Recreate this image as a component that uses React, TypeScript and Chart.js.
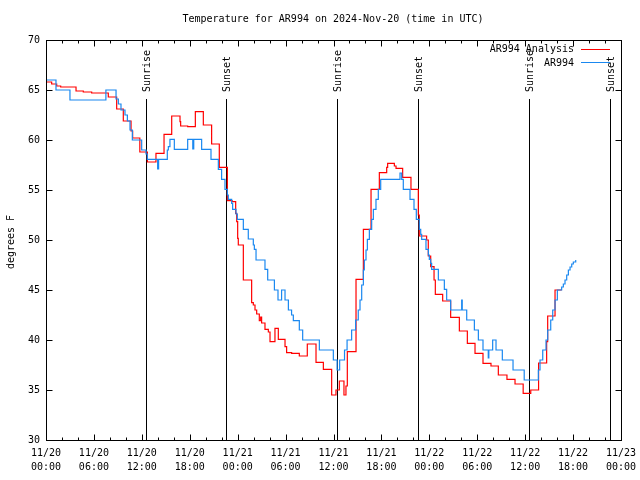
import React, { useEffect, useRef } from 'react';
import { Chart, registerables } from 'chart.js';

Chart.register(...registerables);

// Hours since 2024-11-20 00:00 UTC
const analysisHours = [0, 0.71, 1.34, 1.84, 3.76, 4.67, 5.72, 7.8, 8.85, 9.68, 10.65, 10.85, 11.75, 12.7, 13.77, 14.78, 15.74, 16.78, 16.86, 17.74, 18.7, 19.7, 20.74, 21.7, 22.71, 23.3, 23.75, 23.88, 24.0, 24.08, 24.71, 25.75, 25.96, 26.17, 26.38, 26.71, 26.88, 27.0, 27.42, 27.84, 28.05, 28.67, 29.09, 29.93, 30.13, 30.76, 31.72, 32.72, 33.81, 34.73, 35.77, 36.31, 36.73, 37.31, 37.56, 37.73, 38.82, 39.74, 40.7, 41.74, 42.66, 42.78, 43.62, 43.83, 44.66, 45.7, 46.62, 46.74, 47.66, 47.87, 48.17, 48.59, 48.75, 49.67, 50.67, 51.76, 52.76, 53.72, 54.72, 55.72, 56.64, 57.72, 58.73, 59.75, 60.7, 61.68, 62.69, 62.82, 63.74, 64.57];
const analysisTemps = [65.8, 65.6, 65.4, 65.3, 64.9, 64.8, 64.7, 64.3, 63.1, 61.9, 60.9, 60.2, 58.8, 57.8, 58.67, 60.57, 62.4, 61.83, 61.4, 61.33, 62.83, 61.5, 59.6, 57.27, 53.93, 53.83, 52.67, 51.83, 50.17, 49.5, 46.0, 43.73, 43.5, 43.0, 42.6, 41.93, 42.3, 41.7, 41.07, 40.8, 39.83, 41.17, 40.07, 39.33, 38.73, 38.67, 38.4, 39.6, 37.77, 37.07, 34.5, 35.0, 35.9, 34.5, 35.4, 38.83, 46.07, 51.07, 55.07, 56.73, 57.27, 57.67, 57.4, 57.17, 56.27, 55.07, 52.5, 50.4, 50.0, 48.4, 47.33, 46.0, 44.57, 43.9, 42.27, 40.9, 39.67, 38.67, 37.67, 37.4, 36.5, 36.07, 35.6, 34.67, 35.0, 37.7, 39.83, 42.4, 45.0, 45.0];

const stationHours = [0, 1.25, 3.0, 7.5, 8.77, 9.06, 9.39, 9.89, 10.19, 10.52, 10.81, 11.98, 12.52, 12.69, 13.98, 14.1, 15.19, 15.32, 15.52, 16.07, 17.74, 18.38, 18.5, 19.49, 20.66, 21.58, 21.99, 22.41, 22.71, 22.83, 23.25, 23.37, 23.79, 23.96, 24.71, 25.33, 25.96, 26.09, 26.3, 27.42, 27.76, 28.6, 29.05, 29.5, 29.93, 30.35, 30.75, 30.97, 31.72, 32.14, 34.23, 35.98, 36.45, 36.77, 37.38, 37.7, 38.27, 38.77, 39.1, 39.32, 39.53, 39.74, 39.86, 40.07, 40.24, 40.49, 40.78, 40.99, 41.32, 41.61, 41.91, 44.33, 44.54, 44.74, 45.58, 46.08, 46.37, 46.75, 46.92, 47.04, 47.58, 47.88, 48.0, 48.17, 48.29, 49.13, 49.88, 50.17, 50.67, 52.05, 52.12, 52.68, 53.64, 54.14, 54.72, 55.38, 55.45, 55.93, 56.35, 57.14, 58.48, 59.88, 61.65, 61.86, 62.2, 62.61, 62.82, 63.2, 63.45, 63.74, 64.03, 64.57, 64.78, 64.99, 65.2, 65.41, 65.62, 65.83, 66.03, 66.33];
const stationTemps = [66.0, 65.0, 64.0, 65.0, 64.1, 63.6, 63.0, 62.5, 61.9, 61.0, 60.0, 59.0, 58.6, 58.07, 57.1, 58.07, 59.0, 59.33, 60.07, 59.07, 60.07, 59.1, 60.07, 59.07, 58.07, 57.07, 56.07, 55.07, 54.5, 54.07, 53.67, 53.07, 52.6, 52.07, 51.07, 50.1, 49.5, 49.07, 48.0, 47.07, 46.0, 45.0, 44.0, 45.0, 44.0, 43.0, 42.5, 41.93, 41.0, 40.0, 39.0, 38.0, 37.0, 38.0, 39.0, 40.0, 41.0, 42.0, 43.0, 44.0, 45.5, 47.0, 48.0, 49.0, 50.07, 51.07, 52.07, 53.07, 54.07, 55.07, 56.07, 56.7, 56.07, 55.07, 54.07, 53.07, 52.07, 51.07, 50.57, 50.07, 49.07, 48.5, 48.07, 47.67, 47.07, 46.0, 45.07, 44.0, 43.0, 44.0, 43.0, 42.0, 41.0, 40.0, 39.0, 38.2, 39.0, 40.0, 39.0, 38.0, 37.0, 36.0, 37.0, 38.0, 39.0, 40.0, 41.0, 42.0, 43.0, 44.0, 45.0, 45.3, 45.6, 46.0, 46.5, 47.0, 47.3, 47.6, 47.8, 48.0];

const xTickDates = ['11/20', '11/20', '11/20', '11/20', '11/21', '11/21', '11/21', '11/21', '11/22', '11/22', '11/22', '11/22', '11/23'];
const xTickTimes = ['00:00', '06:00', '12:00', '18:00', '00:00', '06:00', '12:00', '18:00', '00:00', '06:00', '12:00', '18:00', '00:00'];
const sunEventHours = [12.52, 22.6, 36.5, 46.62, 60.52, 70.62];
const sunEventLabels = ['Sunrise', 'Sunset', 'Sunrise', 'Sunset', 'Sunrise', 'Sunset'];
const seriesNames = ['AR994 Analysis', 'AR994'];
const seriesColors = ['#ff0000', '#1a88f0'];

const FONT = '"DejaVu Sans Mono", "Liberation Mono", monospace';

const decorPlugin = {
  id: 'decor',
  beforeDatasetsDraw(chart: any) {
    const ctx = chart.ctx;
    const xs = chart.scales.x;
    const area = chart.chartArea;
    ctx.save();
    ctx.strokeStyle = '#000';
    ctx.lineWidth = 1;
    ctx.fillStyle = '#000';
    ctx.font = '10px ' + FONT;
    sunEventHours.forEach((h, i) => {
      const px = Math.round(xs.getPixelForValue(h)) + 0.5;
      ctx.beginPath();
      ctx.moveTo(px, 99);
      ctx.lineTo(px, area.bottom);
      ctx.stroke();
      ctx.save();
      ctx.translate(px + 1, 92);
      ctx.rotate(-Math.PI / 2);
      ctx.textAlign = 'left';
      ctx.textBaseline = 'middle';
      ctx.fillText(sunEventLabels[i], 0, 0);
      ctx.restore();
    });
    ctx.restore();
  },
  afterDraw(chart: any) {
    const ctx = chart.ctx;
    const xs = chart.scales.x;
    const ys = chart.scales.y;
    const area = chart.chartArea;
    const L = Math.round(area.left) + 0.5;
    const R = Math.round(area.right) + 0.5;
    const T = Math.round(area.top) + 0.5;
    const B = Math.round(area.bottom) + 0.5;
    ctx.save();
    ctx.strokeStyle = '#000';
    ctx.lineWidth = 1;
    ctx.strokeRect(L, T, R - L, B - T);
    ctx.beginPath();
    for (let h = 0; h <= 72; h += 2) {
      const px = Math.round(xs.getPixelForValue(h)) + 0.5;
      const len = h % 6 === 0 ? 6 : 3;
      ctx.moveTo(px, B);
      ctx.lineTo(px, B - len);
      ctx.moveTo(px, T);
      ctx.lineTo(px, T + len);
    }
    for (let v = 30; v <= 70; v += 5) {
      const py = Math.round(ys.getPixelForValue(v)) + 0.5;
      ctx.moveTo(L, py);
      ctx.lineTo(L + 6, py);
      ctx.moveTo(R, py);
      ctx.lineTo(R - 6, py);
    }
    ctx.stroke();

    ctx.fillStyle = '#000';
    ctx.font = '10px ' + FONT;
    ctx.textAlign = 'center';
    ctx.textBaseline = 'middle';
    ctx.fillText('Temperature for AR994 on 2024-Nov-20 (time in UTC)', 333, 19);

    ctx.save();
    ctx.translate(11, 242);
    ctx.rotate(-Math.PI / 2);
    ctx.textAlign = 'center';
    ctx.textBaseline = 'middle';
    ctx.fillText('degrees F', 0, 0);
    ctx.restore();

    const rows = [49.5, 63];
    seriesNames.forEach((name, i) => {
      ctx.textAlign = 'right';
      ctx.textBaseline = 'middle';
      ctx.fillStyle = '#000';
      ctx.fillText(name, 574, rows[i]);
      ctx.strokeStyle = seriesColors[i];
      ctx.beginPath();
      ctx.moveTo(581, Math.round(rows[i]) - 0.5);
      ctx.lineTo(610, Math.round(rows[i]) - 0.5);
      ctx.stroke();
    });
    ctx.restore();
  },
};

export default function App() {
  const canvasRef = useRef<HTMLCanvasElement | null>(null);

  useEffect(() => {
    const canvas = canvasRef.current;
    if (!canvas) return;
    const tickFont = { family: FONT, size: 10, lineHeight: 1.45 };
    const chart = new Chart(canvas, {
      type: 'line',
      data: {
        datasets: [
          {
            label: seriesNames[1],
            data: stationHours.map((h, i) => ({ x: h, y: stationTemps[i] })),
            borderColor: seriesColors[1],
            borderWidth: 1.2,
            stepped: 'before',
            pointRadius: 0,
            fill: false,
          },
          {
            label: seriesNames[0],
            data: analysisHours.map((h, i) => ({ x: h, y: analysisTemps[i] })),
            borderColor: seriesColors[0],
            borderWidth: 1.2,
            stepped: 'before',
            pointRadius: 0,
            fill: false,
          },
        ],
      },
      options: {
        animation: false,
        responsive: false,
        maintainAspectRatio: false,
        devicePixelRatio: 1,
        layout: { padding: { left: 0, right: 19, top: 40, bottom: 0 } },
        plugins: {
          legend: { display: false },
          title: { display: false },
          tooltip: { enabled: false },
        },
        elements: { point: { radius: 0 } },
        scales: {
          x: {
            type: 'linear',
            min: 0,
            max: 72,
            afterFit: (s: any) => {
              s.height = 40;
              s.paddingLeft = 0;
              s.paddingRight = 0;
            },
            ticks: {
              stepSize: 6,
              autoSkip: false,
              maxRotation: 0,
              minRotation: 0,
              padding: 6,
              color: '#000',
              font: tickFont,
              callback: (_v: any, i: number) => [xTickDates[i], xTickTimes[i]],
            },
            grid: { display: false, drawTicks: false },
            border: { display: false },
          },
          y: {
            type: 'linear',
            min: 30,
            max: 70,
            afterFit: (s: any) => {
              s.width = 46;
              s.paddingTop = 0;
              s.paddingBottom = 0;
            },
            ticks: {
              stepSize: 5,
              padding: 6,
              color: '#000',
              font: { family: FONT, size: 10 },
            },
            grid: { display: false, drawTicks: false },
            border: { display: false },
          },
        },
      },
      plugins: [decorPlugin],
    } as any);
    return () => {
      chart.destroy();
    };
  }, []);

  return (
    <div style={{ position: 'fixed', left: 0, top: 0, width: 640, height: 480, background: '#fff' }}>
      <canvas ref={canvasRef} width={640} height={480} style={{ width: 640, height: 480, display: 'block' }} />
    </div>
  );
}
